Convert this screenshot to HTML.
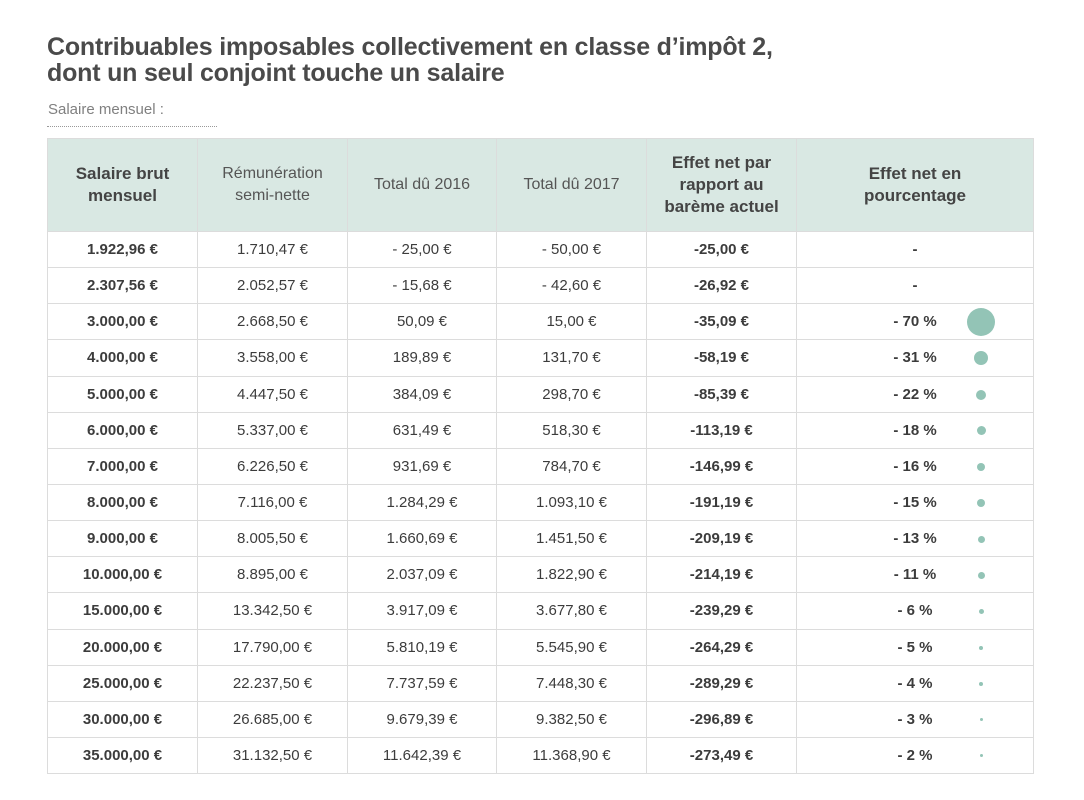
<!DOCTYPE html>
<html><head><meta charset="utf-8"><style>
body{margin:0;width:1084px;height:800px;background:#fff;font-family:"Liberation Sans",sans-serif;color:#3c3c3c;position:relative;overflow:hidden}
h1{position:absolute;left:47px;top:34px;margin:0;font-size:25px;line-height:26px;font-weight:bold;color:#4a4a4a;letter-spacing:-0.2px}
.sub{position:absolute;left:48px;top:101px;font-size:15px;color:#808080}
.dot{position:absolute;left:47px;top:126px;width:170px;border-top:1px dotted #999}
table{position:absolute;left:47px;top:138px;border-collapse:collapse;table-layout:fixed}
td,th{border:1px solid #dcdcdc;text-align:center;font-size:15px;padding:0;position:relative}
th{background:#d9e8e3;height:92px;font-weight:normal;color:#555;font-size:16px;line-height:22px}
th.b{font-weight:bold;font-size:17px;color:#444}
td{height:35.15px}
td.b{font-weight:bold}
.c{position:absolute;border-radius:50%;background:#93c4b6}
</style></head><body>
<h1>Contribuables imposables collectivement en classe d’impôt 2,<br>dont un seul conjoint touche un salaire</h1>
<div class="sub">Salaire mensuel :</div>
<div class="dot"></div>
<table>
<colgroup><col style="width:150px"><col style="width:150px"><col style="width:149px"><col style="width:150px"><col style="width:150px"><col style="width:237px"></colgroup>
<tr><th class="b">Salaire brut<br>mensuel</th><th>Rémunération<br>semi-nette</th><th>Total dû 2016</th><th>Total dû 2017</th><th class="b">Effet net par<br>rapport au<br>barème actuel</th><th class="b">Effet net en<br>pourcentage</th></tr>
<tr><td class="b">1.922,96 €</td><td>1.710,47 €</td><td>- 25,00 €</td><td>- 50,00 €</td><td class="b">-25,00 €</td><td class="b">-</td></tr>
<tr><td class="b">2.307,56 €</td><td>2.052,57 €</td><td>- 15,68 €</td><td>- 42,60 €</td><td class="b">-26,92 €</td><td class="b">-</td></tr>
<tr><td class="b">3.000,00 €</td><td>2.668,50 €</td><td>50,09 €</td><td>15,00 €</td><td class="b">-35,09 €</td><td class="b">- 70 %<span class="c" style="left:170px;top:4px;width:28px;height:28px"></span></td></tr>
<tr><td class="b">4.000,00 €</td><td>3.558,00 €</td><td>189,89 €</td><td>131,70 €</td><td class="b">-58,19 €</td><td class="b">- 31 %<span class="c" style="left:177px;top:11px;width:14px;height:14px"></span></td></tr>
<tr><td class="b">5.000,00 €</td><td>4.447,50 €</td><td>384,09 €</td><td>298,70 €</td><td class="b">-85,39 €</td><td class="b">- 22 %<span class="c" style="left:179px;top:13px;width:10px;height:10px"></span></td></tr>
<tr><td class="b">6.000,00 €</td><td>5.337,00 €</td><td>631,49 €</td><td>518,30 €</td><td class="b">-113,19 €</td><td class="b">- 18 %<span class="c" style="left:179.5px;top:13.5px;width:9px;height:9px"></span></td></tr>
<tr><td class="b">7.000,00 €</td><td>6.226,50 €</td><td>931,69 €</td><td>784,70 €</td><td class="b">-146,99 €</td><td class="b">- 16 %<span class="c" style="left:180px;top:14px;width:8px;height:8px"></span></td></tr>
<tr><td class="b">8.000,00 €</td><td>7.116,00 €</td><td>1.284,29 €</td><td>1.093,10 €</td><td class="b">-191,19 €</td><td class="b">- 15 %<span class="c" style="left:180px;top:14px;width:8px;height:8px"></span></td></tr>
<tr><td class="b">9.000,00 €</td><td>8.005,50 €</td><td>1.660,69 €</td><td>1.451,50 €</td><td class="b">-209,19 €</td><td class="b">- 13 %<span class="c" style="left:180.5px;top:14.5px;width:7px;height:7px"></span></td></tr>
<tr><td class="b">10.000,00 €</td><td>8.895,00 €</td><td>2.037,09 €</td><td>1.822,90 €</td><td class="b">-214,19 €</td><td class="b">- 11 %<span class="c" style="left:180.5px;top:14.5px;width:7px;height:7px"></span></td></tr>
<tr><td class="b">15.000,00 €</td><td>13.342,50 €</td><td>3.917,09 €</td><td>3.677,80 €</td><td class="b">-239,29 €</td><td class="b">- 6 %<span class="c" style="left:181.5px;top:15.5px;width:5px;height:5px"></span></td></tr>
<tr><td class="b">20.000,00 €</td><td>17.790,00 €</td><td>5.810,19 €</td><td>5.545,90 €</td><td class="b">-264,29 €</td><td class="b">- 5 %<span class="c" style="left:182px;top:16px;width:4px;height:4px"></span></td></tr>
<tr><td class="b">25.000,00 €</td><td>22.237,50 €</td><td>7.737,59 €</td><td>7.448,30 €</td><td class="b">-289,29 €</td><td class="b">- 4 %<span class="c" style="left:182px;top:16px;width:4px;height:4px"></span></td></tr>
<tr><td class="b">30.000,00 €</td><td>26.685,00 €</td><td>9.679,39 €</td><td>9.382,50 €</td><td class="b">-296,89 €</td><td class="b">- 3 %<span class="c" style="left:182.5px;top:16.5px;width:3px;height:3px"></span></td></tr>
<tr><td class="b">35.000,00 €</td><td>31.132,50 €</td><td>11.642,39 €</td><td>11.368,90 €</td><td class="b">-273,49 €</td><td class="b">- 2 %<span class="c" style="left:182.5px;top:16.5px;width:3px;height:3px"></span></td></tr>
</table>
</body></html>
